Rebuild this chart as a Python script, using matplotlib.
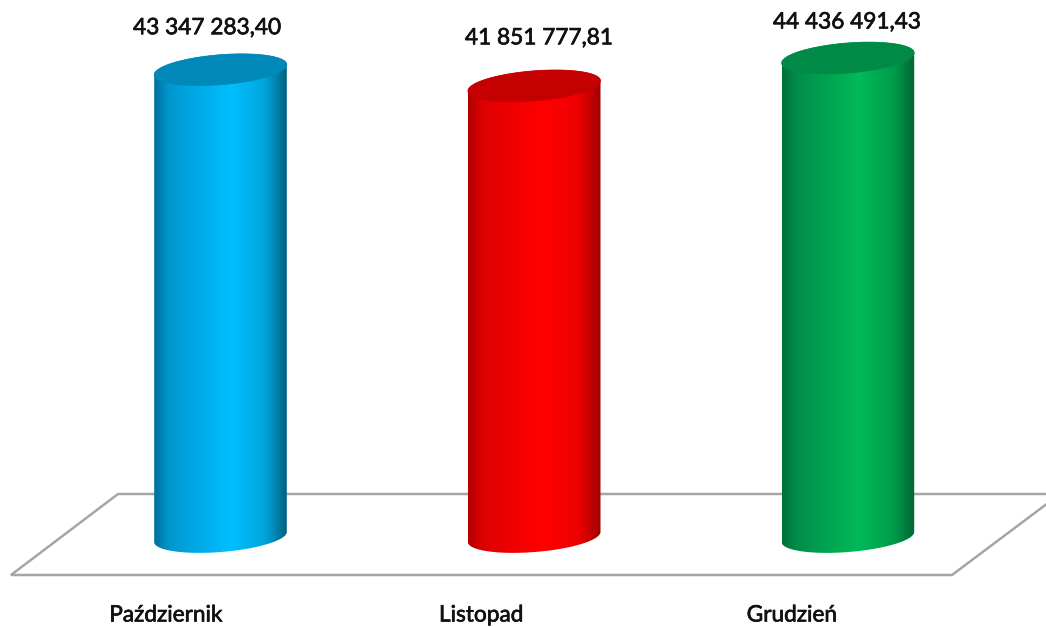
import numpy as np
import matplotlib
matplotlib.use('Agg')
import matplotlib.pyplot as plt
import matplotlib.patheffects as pe
from matplotlib.colors import LinearSegmentedColormap
from matplotlib.patches import Polygon

months = ['Październik', 'Listopad', 'Grudzień']
values = [43347283.40, 41851777.81, 44436491.43]
value_labels = ['43 347 283,40', '41 851 777,81', '44 436 491,43']

W, H = 1046, 627
# skala osi: polozenie w pikselach obrazka
X0_PX = 220.5
X_STEP_PX = 313.7
Y0_PX = 537
PX_PER_UNIT = 10.78e-6

plt.rcParams['font.family'] = ['Lato', 'DejaVu Sans']

fig = plt.figure(figsize=(W / 100, H / 100), dpi=100)
ax = fig.add_axes([0, 0, 1, 1])
ax.axis('off')


def data_x(px):
    return (px - X0_PX) / X_STEP_PX


def data_y(px):
    return (Y0_PX - px) / PX_PER_UNIT


# podloga wykresu
floor_x = [11, 118, 1060, 952]
floor_y = [575, 494, 494, 575]
ax.add_patch(Polygon(np.column_stack([data_x(np.array(floor_x)), data_y(np.array(floor_y))]),
                     closed=True, facecolor='white', edgecolor='#a6a6a6', linewidth=1.8, zorder=1))

shades = [
    ['#006f9c', '#0094cc', '#00a8e4', '#00bfff', '#00a4dc', '#00607f'],
    ['#b00000', '#dc0000', '#ee0000', '#ff0000', '#ec0000', '#a00000'],
    ['#00703a', '#008c47', '#00a050', '#00ba58', '#009c4c', '#006634'],
]
tops = ['#0088b8', '#c40000', '#008a45']
stops = [0, 0.1, 0.3, 0.58, 0.84, 1]

half_w = 66.5
half_h = 15
tilt = np.deg2rad(4.6)
t = np.linspace(0, 2 * np.pi, 181)
ell_x = half_w * np.cos(t) * np.cos(tilt) + half_h * np.sin(t) * np.sin(tilt)
ell_y = -half_w * np.cos(t) * np.sin(tilt) + half_h * np.sin(t) * np.cos(tilt)
# ell_y w pikselach rosnie w dol
left = np.argmin(ell_x)
right = np.argmax(ell_x)
lower = np.arange(right, left + 1)  # dolna polowa elipsy, od prawej do lewej
upper = np.r_[left:len(t) - 1, 0:right + 1]  # gorna polowa, od lewej do prawej

for i, v in enumerate(values):
    dx = ell_x / X_STEP_PX
    dy = -ell_y / PX_PER_UNIT

    body = np.vstack([
        np.column_stack([i + dx[lower], dy[lower]]),
        np.column_stack([i + dx[upper], v + dy[upper]]),
    ])
    clip = Polygon(body, closed=True, transform=ax.transData, facecolor='none', edgecolor='none')
    ax.add_patch(clip)

    cmap = LinearSegmentedColormap.from_list('cyl', list(zip(stops, shades[i])))
    grad = np.linspace(0, 1, 256).reshape(1, -1)
    im = ax.imshow(grad, cmap=cmap, aspect='auto', zorder=2,
                   extent=[i + dx.min(), i + dx.max(), dy.min(), v + dy.max()])
    im.set_clip_path(clip)

    ax.fill(i + dx, v + dy, color=tops[i], zorder=3, linewidth=0.5)

# opisy
label_dx = [-13.5, 5, -1]
label_dy = [42, 48, 36]
month_dx = [-54.5, -53, -56]
heavier = [pe.withStroke(linewidth=0.5, foreground='#111111')]
for i, v in enumerate(values):
    ax.text(i + label_dx[i] / X_STEP_PX, v + label_dy[i] / PX_PER_UNIT, value_labels[i],
            ha='center', va='center', fontsize=16.3, color='#111111', zorder=5, path_effects=heavier)
    ax.text(i + month_dx[i] / X_STEP_PX, data_y(615), months[i],
            ha='center', va='center', fontsize=16.3, color='#111111', zorder=5, path_effects=heavier)

ax.set_xlim(data_x(0), data_x(W))
ax.set_ylim(data_y(H), data_y(0))

fig.savefig('out.png', dpi=100, facecolor='white')
